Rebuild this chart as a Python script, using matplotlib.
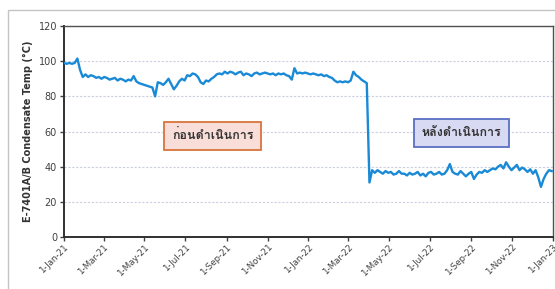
import matplotlib
matplotlib.use("Agg")
import matplotlib.pyplot as plt
import matplotlib.dates as mdates
from matplotlib import font_manager
from matplotlib.patches import Rectangle
from matplotlib.ticker import FuncFormatter
import pandas as pd

# ---------------- data ----------------
start_date = "2021-01-01"
step = "4D"
temp_before = [
    99, 98.5, 99, 98.5, 99,
    101.5,
    95, 91,
    92.5, 91, 92, 91.5, 90.5, 91, 90, 91, 90.5, 89.5, 90, 90.5, 89, 90, 89.5, 88.5, 89.5, 89,
    91.5,
    88.5, 87.5, 87, 86.5, 86, 85.5, 85,
    80,
    88, 87.5, 86.5, 88, 90, 87, 84, 86, 88.5, 90, 89,
    92, 91.5, 93, 92.5, 91, 88, 87, 89, 88.5, 90, 91, 92.5, 93, 92.5, 94,
    93, 94, 93.5, 92.5, 93.5, 94, 92, 93, 92.5, 91.5, 93, 93.5, 92.5, 93, 93.5, 93,
    92.5, 93, 92, 93, 92.5, 93, 92, 91.5,
    89.5, 96, 93,
    93.5, 93, 93.5, 93, 92.5, 93, 92.5, 92, 92.5, 91.5, 92, 91, 90.5, 89, 88, 88.5,
    88, 88.5, 88, 89, 94, 92, 91, 89.5, 88.5, 87.5,
]
temp_after = [
    31,
    38, 36.5, 38, 37, 36, 37.5, 36.5, 37, 35.5, 36, 37.5, 36,
    36, 35, 36.5, 35.5, 36, 37, 35, 36, 34.5, 36.5, 37, 35.5, 36, 37, 35.5, 36, 38,
    41.5,
    37, 36, 35.5, 37.5, 36, 34.5, 36, 37, 33, 35.5, 37, 36.5, 38, 37, 38,
    39, 38.5, 40, 41, 39, 42.5, 40, 38, 39.5, 41, 38, 39.5, 38.5,
    37, 38.5, 36, 38, 34, 28.5, 33, 36, 38, 37.5,
]
y_label = "E-7401A/B Condensate Temp (°C)"
label_before = "ก่อนดำเนินการ"
label_after = "หลังดำเนินการ"
y_ticks = [0, 20, 40, 60, 80, 100, 120]

values = temp_before + temp_after
dates = pd.date_range(start_date, periods=len(values), freq=step)

# ---------------- Thai font lookup ----------------
preferred = ["Loma", "Tlwg Typo", "Garuda", "Umpush"]
thai_fonts = []
try:
    from fontTools.ttLib import TTFont
    for f in font_manager.fontManager.ttflist:
        try:
            tt = TTFont(f.fname, fontNumber=0, lazy=True)
            cm = tt.getBestCmap()
            if cm and 0x0E01 in cm and f.name not in thai_fonts:
                thai_fonts.append(f.name)
        except Exception:
            pass
except Exception:
    pass
chosen = [p for p in preferred if p in thai_fonts] or thai_fonts[:1]
thai_family = chosen[:1] + ["DejaVu Sans"]

# ---------------- figure ----------------
fig = plt.figure(figsize=(5.55, 2.89), dpi=100)
ax = fig.add_axes([64 / 555, 1 - 237 / 289, (553 - 64) / 555, (237 - 26) / 289])

# outer frame
fig.patches.append(Rectangle((8 / 555, -0.1), 1.2, (289 - 10) / 289 + 0.1,
                             transform=fig.transFigure, fill=False,
                             edgecolor="#c4c4c4", lw=1.0, zorder=0))

ax.plot(dates, values, color="#1a8ad6", lw=1.7, solid_joinstyle="round", zorder=3)

ax.set_ylim(0, 120)
ax.set_yticks(y_ticks)
ax.set_xlim(pd.Timestamp("2021-01-01"), pd.Timestamp("2023-01-01"))
ax.xaxis.set_major_locator(mdates.MonthLocator(bymonth=[1, 3, 5, 7, 9, 11]))
ax.xaxis.set_major_formatter(FuncFormatter(
    lambda x, pos: (lambda d: f"{d.day}-{d.strftime('%b-%y')}")(mdates.num2date(x))))

for yv in y_ticks[1:-1]:
    ax.axhline(yv, color="#c9cfdf", lw=0.8, ls=(0, (2, 1.5)), zorder=1)

for s in ["left", "bottom"]:
    ax.spines[s].set_color("#303030")
    ax.spines[s].set_linewidth(1.4)
for s in ["top", "right"]:
    ax.spines[s].set_color("#505050")
    ax.spines[s].set_linewidth(1.0)

ax.tick_params(axis="y", labelsize=7, colors="#404040", length=3, width=1, pad=2)
ax.tick_params(axis="x", labelsize=6.3, colors="#404040", length=3, width=1, pad=1)
for lbl in ax.get_xticklabels():
    lbl.set_rotation(45)
    lbl.set_ha("right")
    lbl.set_rotation_mode("anchor")

ax.set_ylabel(y_label, fontsize=7, color="#333333", fontweight="bold", labelpad=4)

ax.text(pd.Timestamp("2021-08-11"), 57.5, label_before, fontsize=9,
        family=thai_family, fontweight="bold", color="#333333",
        ha="center", va="center", zorder=4,
        bbox=dict(boxstyle="square,pad=0.62", facecolor="#f9ddd8",
                  edgecolor="#d8743c", lw=1.3))
ax.text(pd.Timestamp("2022-08-17"), 59.2, label_after, fontsize=9,
        family=thai_family, fontweight="bold", color="#333333",
        ha="center", va="center", zorder=4,
        bbox=dict(boxstyle="square,pad=0.62", facecolor="#d8d9f2",
                  edgecolor="#5a6fc2", lw=1.3))

fig.savefig("out.png", dpi=100)
